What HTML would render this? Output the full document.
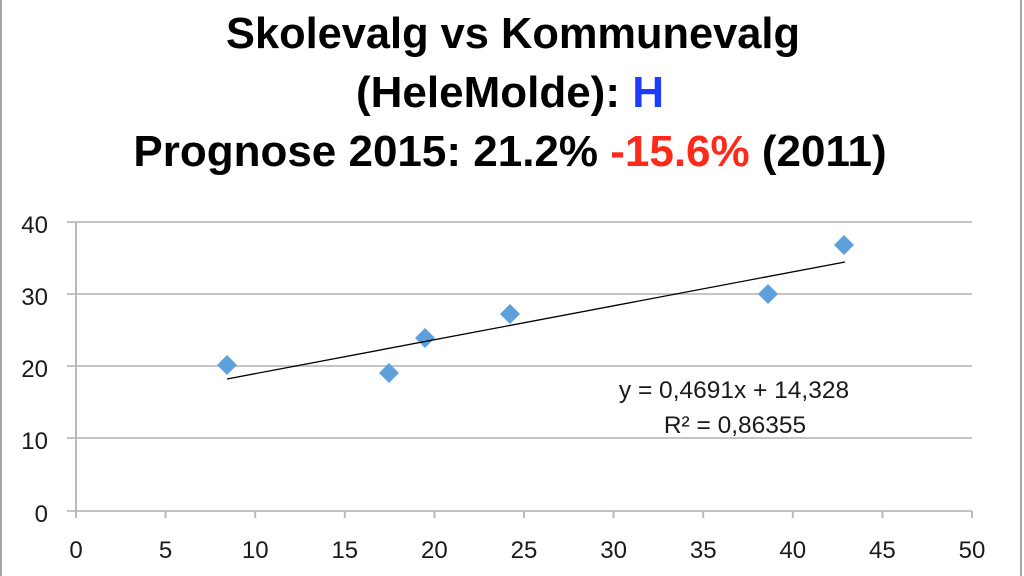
<!DOCTYPE html>
<html>
<head>
<meta charset="utf-8">
<style>
html,body{margin:0;padding:0;background:#fff;}
body{width:1024px;height:576px;overflow:hidden;}
svg{display:block;}
</style>
</head>
<body>
<svg width="1024" height="576" viewBox="0 0 1024 576" xmlns="http://www.w3.org/2000/svg">
<rect x="0" y="0" width="1024" height="576" fill="#ffffff"/>
<!-- side borders -->
<rect x="0" y="0" width="2" height="576" fill="#a8a8a8"/>
<rect x="1020" y="0" width="2" height="576" fill="#a8a8a8"/>

<!-- title -->
<g font-family="'Liberation Sans', sans-serif" font-weight="bold" font-size="44" fill="#000" text-anchor="middle">
<text x="513" y="48" textLength="574" lengthAdjust="spacingAndGlyphs">Skolevalg vs Kommunevalg</text>
<text x="510" y="107">(HeleMolde): <tspan fill="#1f3dff">H</tspan></text>
<text x="510" y="166">Prognose 2015: 21.2% <tspan fill="#ff2a1a">-15.6%</tspan> (2011)</text>
</g>

<!-- gridlines -->
<g stroke="#c4c4c4" stroke-width="2">
<line x1="67" y1="222" x2="972" y2="222"/>
<line x1="67" y1="294" x2="972" y2="294"/>
<line x1="67" y1="366" x2="972" y2="366"/>
<line x1="67" y1="438" x2="972" y2="438"/>
<line x1="67" y1="511" x2="972" y2="511"/>
</g>
<!-- y axis -->
<line x1="76" y1="222" x2="76" y2="518" stroke="#b8b8b8" stroke-width="2"/>
<!-- x ticks -->
<g stroke="#b8b8b8" stroke-width="2">
<line x1="165.6" y1="511" x2="165.6" y2="518"/>
<line x1="255.2" y1="511" x2="255.2" y2="518"/>
<line x1="344.8" y1="511" x2="344.8" y2="518"/>
<line x1="434.4" y1="511" x2="434.4" y2="518"/>
<line x1="524" y1="511" x2="524" y2="518"/>
<line x1="613.6" y1="511" x2="613.6" y2="518"/>
<line x1="703.2" y1="511" x2="703.2" y2="518"/>
<line x1="792.8" y1="511" x2="792.8" y2="518"/>
<line x1="882.4" y1="511" x2="882.4" y2="518"/>
<line x1="972" y1="511" x2="972" y2="518"/>
</g>

<!-- y labels -->
<g font-family="'Liberation Sans', sans-serif" font-size="24" fill="#1a1a1a" text-anchor="end">
<text x="48" y="233">40</text>
<text x="48" y="305">30</text>
<text x="48" y="377">20</text>
<text x="48" y="449">10</text>
<text x="48" y="522">0</text>
</g>
<!-- x labels -->
<g font-family="'Liberation Sans', sans-serif" font-size="24" fill="#1a1a1a" text-anchor="middle">
<text x="76" y="558">0</text>
<text x="165.6" y="558">5</text>
<text x="255.2" y="558">10</text>
<text x="344.8" y="558">15</text>
<text x="434.4" y="558">20</text>
<text x="524" y="558">25</text>
<text x="613.6" y="558">30</text>
<text x="703.2" y="558">35</text>
<text x="792.8" y="558">40</text>
<text x="882.4" y="558">45</text>
<text x="972" y="558">50</text>
</g>

<!-- markers -->
<g fill="#5da0dc">
<polygon points="227,355 237,365 227,375 217,365"/>
<polygon points="389,363 399,373 389,383 379,373"/>
<polygon points="425,328 435,338 425,348 415,338"/>
<polygon points="510,304 520,314 510,324 500,314"/>
<polygon points="768,284 778,294 768,304 758,294"/>
<polygon points="844,235 854,245 844,255 834,245"/>
</g>

<!-- trendline -->
<line x1="227" y1="379" x2="845" y2="262" stroke="#000" stroke-width="1.3"/>

<!-- equation -->
<g font-family="'Liberation Sans', sans-serif" font-size="24.5" fill="#1a1a1a" text-anchor="middle">
<text x="734" y="398">y = 0,4691x + 14,328</text>
<text x="735" y="433">R² = 0,86355</text>
</g>
</svg>
</body>
</html>
